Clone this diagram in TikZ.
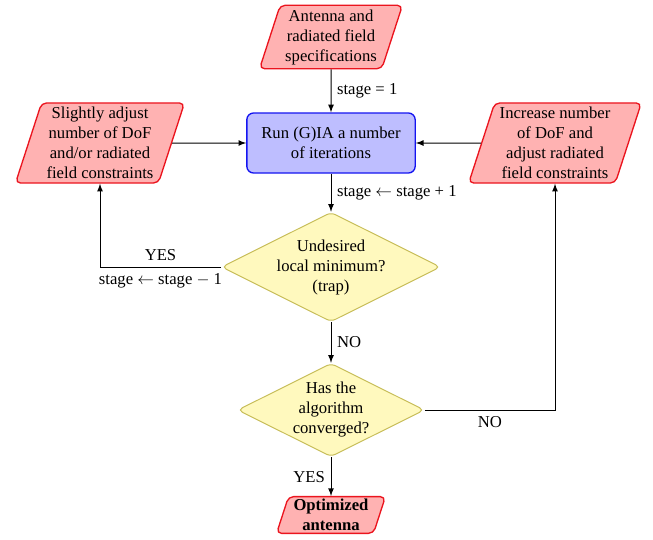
\documentclass[tikz,border=0pt]{standalone}
\usepackage{fontspec}
\setmainfont{Liberation Serif}
\usepackage{amsmath}
\usetikzlibrary{shapes.geometric,arrows}

\definecolor{ioedge}{RGB}{235,20,30}
\definecolor{iofill}{RGB}{255,178,178}
\definecolor{runedge}{RGB}{20,20,240}
\definecolor{runfill}{RGB}{190,190,255}
\definecolor{askedge}{RGB}{200,190,90}
\definecolor{askfill}{RGB}{255,249,190}

\tikzset{
  iobox/.style={trapezium, trapezium left angle=72, trapezium right angle=108,
    draw=ioedge, fill=iofill, thick, rounded corners=3pt, align=center,
    inner xsep=3pt, inner ysep=2.5pt},
  runbox/.style={rectangle, draw=runedge, fill=runfill, thick, rounded corners=4pt,
    align=center, minimum width=101pt, minimum height=36pt},
  askbox/.style={diamond, aspect=2, draw=askedge, fill=askfill, semithick,
    rounded corners=3pt, align=center, inner sep=0pt},
  flow/.style={->, >=latex, semithick}
}

\begin{document}
\begin{tikzpicture}[x=0.6pt, y=-0.6pt]
    \useasboundingbox (0,0) rectangle (653,539);
    \node[iobox] (spec) at (331,37) {Antenna and\\radiated field\\specifications};
    \node[runbox] (run) at (331,143) {Run (G)IA a number\\of iterations};
    \node[iobox] (slight) at (100,143) {Slightly adjust\\number of DoF\\and/or radiated\\field constraints};
    \node[iobox] (incr) at (555,143) {Increase number\\of DoF and\\adjust radiated\\field constraints};
    \node[askbox] (trap) at (331,267) {Undesired\\local minimum?\\(trap)};
    \node[askbox] (conv) at (331,410) {Has the\\algorithm\\converged?};
    \node[iobox, inner ysep=1.5pt] (opt) at (331,515) {\bfseries Optimized\\\bfseries antenna};

    \draw[flow] (spec) -- node[right] {stage = 1} (run);
    \draw[flow] (slight) -- (run);
    \draw[flow] (incr) -- (run);
    \draw[flow] (run) -- node[right] {stage $\leftarrow$ stage + 1} (trap);
    \draw[flow] (trap.west) -| node[pos=0.25, above] {YES}
      node[pos=0.25, below] {stage $\leftarrow$ stage $-$ 1} (slight.south);
    \draw[flow] (trap) -- node[right] {NO} (conv);
    \draw[flow] (conv.east) -| node[pos=0.25, below] {NO} (incr.south);
    \draw[flow] (conv) -- node[left] {YES} (opt);
\end{tikzpicture}
\end{document}
